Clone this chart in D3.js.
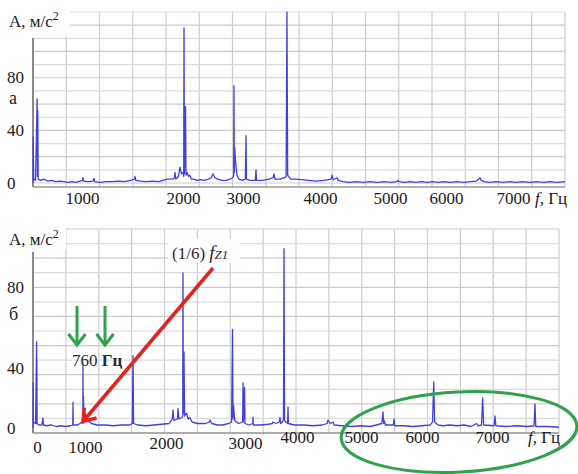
<!DOCTYPE html>
<html>
<head>
<meta charset="utf-8">
<script src="https://cdn.jsdelivr.net/npm/d3@7"></script>
<style>
  html, body { margin: 0; padding: 0; background: #fff; }
  svg { display: block; font-family: "Liberation Serif", "Times New Roman", serif; }
</style>
</head>
<body>
<div id="chart"></div>
<script>
// Tick labels as printed on each panel
const xTicksTop = [1000, 2000, 3000, 4000, 5000, 6000, 7000];
const xTicksBottom = [0, 1000, 2000, 3000, 4000, 5000, 6000, 7000];
const yTicks = [0, 40, 80];

// Spectrum "а": [frequency Hz, amplitude m/s^2]
const spectrumTop = [
  [515, 0], [517, 35], [522, 3], [540, 2], [556, 64], [559, 5], [562, 55], [566, 3],
  [590, 2], [620, 3], [660, 1.5], [700, 2], [740, 1], [780, 1.5], [820, 1], [860, 0.5],
  [900, 1], [940, 0.5], [980, 1.5], [1005, 2], [1010, 4], [1015, 1.5], [1060, 1],
  [1110, 1.5], [1119, 3.5], [1125, 1], [1180, 0.5], [1240, 1], [1300, 1], [1360, 1.5],
  [1420, 1], [1480, 2], [1520, 3], [1525, 5], [1532, 2], [1580, 1.5], [1640, 1],
  [1700, 1.5], [1760, 1], [1800, 2], [1850, 3], [1900, 3], [1915, 4], [1921, 8],
  [1928, 3], [1955, 5], [1970, 12], [1985, 7], [2000, 8], [2012, 5], [2017, 118],
  [2024, 7], [2042, 58], [2050, 6], [2070, 8], [2090, 5], [2110, 6], [2140, 3],
  [2180, 3], [2230, 2], [2290, 2.5], [2350, 2], [2420, 3], [2470, 4], [2500, 7],
  [2530, 4], [2580, 3], [2650, 2], [2720, 2], [2780, 3], [2830, 4], [2845, 6],
  [2850, 74], [2855, 8], [2862, 27], [2870, 20], [2885, 12], [2900, 6], [2930, 3],
  [2990, 2], [3030, 3], [3039, 36], [3045, 3], [3090, 2], [3160, 2], [3169, 10],
  [3176, 2], [3250, 2], [3340, 3], [3390, 4], [3403, 7], [3415, 3], [3480, 3],
  [3540, 4], [3560, 5], [3571, 130], [3580, 6], [3620, 3], [3680, 3], [3760, 2.5],
  [3850, 2], [3950, 1.5], [4050, 2], [4120, 2.5], [4160, 3], [4171, 6], [4190, 2.5],
  [4243, 4], [4260, 2], [4330, 1], [4420, 0.5], [4520, 1], [4620, 0.5], [4720, 1],
  [4820, 0.5], [4920, 1], [5020, 0.5], [5120, 1], [5143, 2], [5165, 1], [5260, 0.5],
  [5360, 1], [5460, 0.5], [5560, 1], [5660, 0.5], [5760, 1], [5860, 0.5], [5960, 1],
  [6060, 0.5], [6160, 1], [6260, 0.5], [6360, 1], [6450, 1.5], [6490, 3], [6507, 4],
  [6525, 2], [6570, 1], [6650, 0.5], [6750, 1], [6850, 0.5], [6950, 1], [7050, 0.5],
  [7150, 1], [7250, 0.5], [7350, 1], [7450, 0.5], [7550, 1], [7650, 0.5], [7776, 1]
];

// Spectrum "б"
const spectrumBottom = [
  [-83, 0], [-80, 30], [-76, 4], [-30, 3], [-8, 53], [-6, 3], [-3, 45], [2, 3],
  [40, 2], [100, 2], [125, 6.7], [135, 2], [200, 1.5], [300, 2], [400, 1], [500, 1.5],
  [600, 1], [700, 1.5], [745, 2], [750, 17], [755, 2], [850, 2], [930, 4], [955, 3],
  [958, 42], [962, 4], [969, 21], [975, 6], [1000, 10], [1030, 5], [1080, 3],
  [1150, 2], [1250, 2], [1350, 1.5], [1450, 2], [1550, 2], [1585, 3], [1593, 46],
  [1600, 3], [1650, 2], [1750, 1.5], [1850, 2], [1950, 2.5], [2040, 3], [2080, 6],
  [2089, 12], [2100, 5], [2145, 6], [2152, 13], [2165, 6], [2200, 7], [2212, 8],
  [2215, 87], [2219, 10], [2228, 48], [2235, 8], [2260, 10], [2280, 6], [2300, 7],
  [2330, 4], [2400, 3], [2500, 3], [2550, 4], [2557, 5.3], [2580, 3], [2650, 2],
  [2720, 2], [2790, 3], [2830, 4], [2842, 59], [2848, 6], [2855, 15], [2870, 5],
  [2920, 3], [2970, 4], [2975, 30], [2980, 4], [2994, 27], [3000, 3], [3080, 2],
  [3150, 3], [3154, 7.3], [3160, 2], [3300, 2], [3450, 2.5], [3530, 3], [3538, 4],
  [3600, 3], [3660, 4], [3673, 7], [3685, 3], [3720, 4], [3740, 6], [3750, 99],
  [3760, 5], [3820, 3], [3827, 14], [3835, 3], [3950, 2], [4100, 2], [4250, 1.5],
  [4400, 2], [4470, 3], [4484, 5.3], [4520, 3], [4563, 4], [4580, 2], [4700, 1.5],
  [4850, 1], [5000, 1.5], [5150, 1], [5250, 2], [5340, 3], [5361, 10.7], [5370, 3],
  [5380, 5], [5400, 2], [5530, 2], [5541, 6], [5555, 1.5], [5700, 1.5], [5850, 1],
  [6000, 1.5], [6120, 2], [6150, 4], [6168, 30.7], [6180, 4], [6230, 2], [6300, 1.5],
  [6400, 2], [6500, 1.5], [6600, 2], [6700, 1], [6780, 3], [6800, 1.5], [6850, 2],
  [6867, 20], [6880, 2], [7030, 1.5], [7043, 8], [7055, 1.5], [7200, 1], [7350, 1.5],
  [7500, 1], [7600, 1.5], [7614, 16], [7625, 1], [7800, 1], [7957, 0.5]
];

const width = 578, height = 474;
const ink = '#1a1a1a';
const blue = '#4040e4';
const green = '#2fa34c';
const red = '#e3231f';

const svg = d3.select('#chart').append('svg')
  .attr('width', width)
  .attr('height', height);

// The printed tick labels are not evenly spaced, so the scales are piecewise
const panels = [
  {
    spectrum: spectrumTop,
    x: d3.scaleLinear().domain(xTicksTop).range([82, 183, 243, 320, 390, 446, 513]),
    y: d3.scaleLinear().domain([0, 130]).range([183, 12]),
    xTicks: xTicksTop,
    left: 33, right: 565, top: 12, gridBottom: 183, axisY: 187, axisTop: 38,
    gridRows: 13, labelBox: [0, 0, 70, 36], titleY: 27,
    letter: 'а', letterY: 104,
    tickY: () => 11, unitX: 535, unitY: 198
  },
  {
    spectrum: spectrumBottom,
    x: d3.scaleLinear().domain(xTicksBottom).range([37, 85, 166, 245, 297, 361, 422, 492]),
    y: d3.scaleLinear().domain(yTicks).range([428, 368, 287]),
    xTicks: xTicksBottom,
    left: 33, right: 559, top: 229, gridBottom: 433, axisY: 433, axisTop: 252,
    gridRows: 14, labelBox: [0, 224, 66, 26], titleY: 245,
    letter: 'б', letterY: 320,
    tickY: d => d <= 1000 ? 14 : d <= 3000 ? 10 : 4, unitX: 528, unitY: 437
  }
];

panels.forEach(p => {
  const g = svg.append('g');

  // grid: 16 columns and a row every 10 units, as in the source
  const gx = d3.scaleLinear().domain([0, 16]).range([p.left, p.right]);
  const gy = d3.scaleLinear().domain([0, p.gridRows]).range([p.gridBottom, p.top]);

  g.append('g').selectAll('line')
    .data(d3.range(1, 17))
    .enter().append('line')
    .attr('x1', d => gx(d)).attr('x2', d => gx(d))
    .attr('y1', p.top).attr('y2', p.axisY)
    .attr('stroke', '#cdcdcd')
    .attr('stroke-width', 1.2);

  g.append('g').selectAll('line')
    .data(d3.range(0, p.gridRows + 1))
    .enter().append('line')
    .attr('x1', p.left).attr('x2', p.right)
    .attr('y1', d => gy(d)).attr('y2', d => gy(d))
    .attr('stroke', d => d % 2 ? '#dcdcdc' : '#cccccc')
    .attr('stroke-width', 1.2);

  // axis lines
  g.append('line')
    .attr('x1', p.left).attr('x2', p.right)
    .attr('y1', p.axisY).attr('y2', p.axisY)
    .attr('stroke', '#9a9a9a').attr('stroke-width', 1.5);
  g.append('line')
    .attr('x1', p.left).attr('x2', p.left)
    .attr('y1', p.axisTop).attr('y2', p.axisY)
    .attr('stroke', '#8a8a8a').attr('stroke-width', 2);

  // spectrum
  const line = d3.line()
    .x(d => p.x(d[0]))
    .y(d => p.y(d[1]));

  g.append('path')
    .datum(p.spectrum)
    .attr('fill', 'none')
    .attr('stroke', blue)
    .attr('stroke-width', 1.3)
    .attr('stroke-linejoin', 'round')
    .attr('d', line);

  // x tick labels
  const xAxis = g.append('g')
    .attr('transform', `translate(0,${p.axisY})`)
    .call(d3.axisBottom(p.x).tickValues(p.xTicks).tickSize(0).tickFormat(d3.format('d')));
  xAxis.select('.domain').remove();
  xAxis.selectAll('text')
    .attr('y', d => p.tickY(d))
    .attr('dy', '0.35em')
    .attr('fill', ink)
    .style('font-family', '"Liberation Serif", serif')
    .style('font-size', '17px');

  // y tick labels, left-aligned at the page margin
  const yAxis = g.append('g')
    .attr('transform', `translate(${p.left},0)`)
    .call(d3.axisLeft(p.y).tickValues(yTicks).tickSize(0));
  yAxis.select('.domain').remove();
  yAxis.selectAll('text')
    .attr('x', 7 - p.left)
    .attr('dy', '0.3em')
    .attr('text-anchor', 'start')
    .attr('fill', ink)
    .style('font-family', '"Liberation Serif", serif')
    .style('font-size', '17px');

  // axis titles
  const [bx, by, bw, bh] = p.labelBox;
  g.append('rect').attr('x', bx).attr('y', by).attr('width', bw).attr('height', bh).attr('fill', '#fff');
  const title = g.append('text')
    .attr('x', 9).attr('y', p.titleY)
    .attr('fill', ink)
    .style('font-size', '17px');
  title.append('tspan').text('А, м/с');
  title.append('tspan').attr('dy', -7).style('font-size', '12px').text('2');

  g.append('text')
    .attr('x', 9).attr('y', p.letterY)
    .attr('fill', ink)
    .style('font-size', '18px')
    .text(p.letter);

  const unit = g.append('text')
    .attr('x', p.unitX).attr('y', p.unitY)
    .attr('dy', '0.35em')
    .attr('fill', ink)
    .style('font-size', '17px');
  unit.append('tspan').style('font-style', 'italic').text('f,');
  unit.append('tspan').text(' Гц');
});

// annotations on panel "б"
const ann = svg.append('g');

// green arrows over the 760 Hz region
[77, 105].forEach(ax => {
  ann.append('line')
    .attr('x1', ax).attr('x2', ax).attr('y1', 306).attr('y2', 343)
    .attr('stroke', green).attr('stroke-width', 3);
  ann.append('path')
    .attr('d', `M${ax - 8.5},334 L${ax},345 L${ax + 8.5},334`)
    .attr('fill', 'none')
    .attr('stroke', green).attr('stroke-width', 3)
    .attr('stroke-linejoin', 'miter');
});

const lbl = ann.append('text')
  .attr('x', 72).attr('y', 366)
  .attr('fill', '#2a2a2a')
  .style('font-size', '17px');
lbl.append('tspan').text('760 ');
lbl.append('tspan').style('font-weight', 'bold').text('Гц');

// red arrow to (1/6) fZ1
const tip = [83, 421.5], tail = [213, 268];
const ang = Math.atan2(tail[1] - tip[1], tail[0] - tip[0]);
const hl = 14, spread = 35 * Math.PI / 180;
ann.append('line')
  .attr('x1', tail[0]).attr('y1', tail[1]).attr('x2', tip[0]).attr('y2', tip[1])
  .attr('stroke', red).attr('stroke-width', 3.5);
ann.append('path')
  .attr('d', `M${tip[0] + hl * Math.cos(ang + spread)},${tip[1] + hl * Math.sin(ang + spread)}` +
             ` L${tip[0]},${tip[1]}` +
             ` L${tip[0] + hl * Math.cos(ang - spread)},${tip[1] + hl * Math.sin(ang - spread)}`)
  .attr('fill', 'none').attr('stroke', red).attr('stroke-width', 3.5);

ann.append('rect')
  .attr('x', 168).attr('y', 239).attr('width', 72).attr('height', 24)
  .attr('fill', '#fff');
const fz = ann.append('text')
  .attr('x', 172).attr('y', 259)
  .attr('fill', '#2a2a2a')
  .style('font-size', '17px');
fz.append('tspan').text('(1/6) ');
fz.append('tspan').style('font-style', 'italic').style('font-size', '19px').text('f');
fz.append('tspan').style('font-style', 'italic').style('font-size', '13px').text('Z1');

// green ellipse round the high-frequency part
ann.append('ellipse')
  .attr('cx', 459).attr('cy', 432)
  .attr('rx', 118).attr('ry', 40)
  .attr('transform', 'rotate(-3 459 432)')
  .attr('fill', 'none')
  .attr('stroke', green).attr('stroke-width', 3);
</script>
</body>
</html>
